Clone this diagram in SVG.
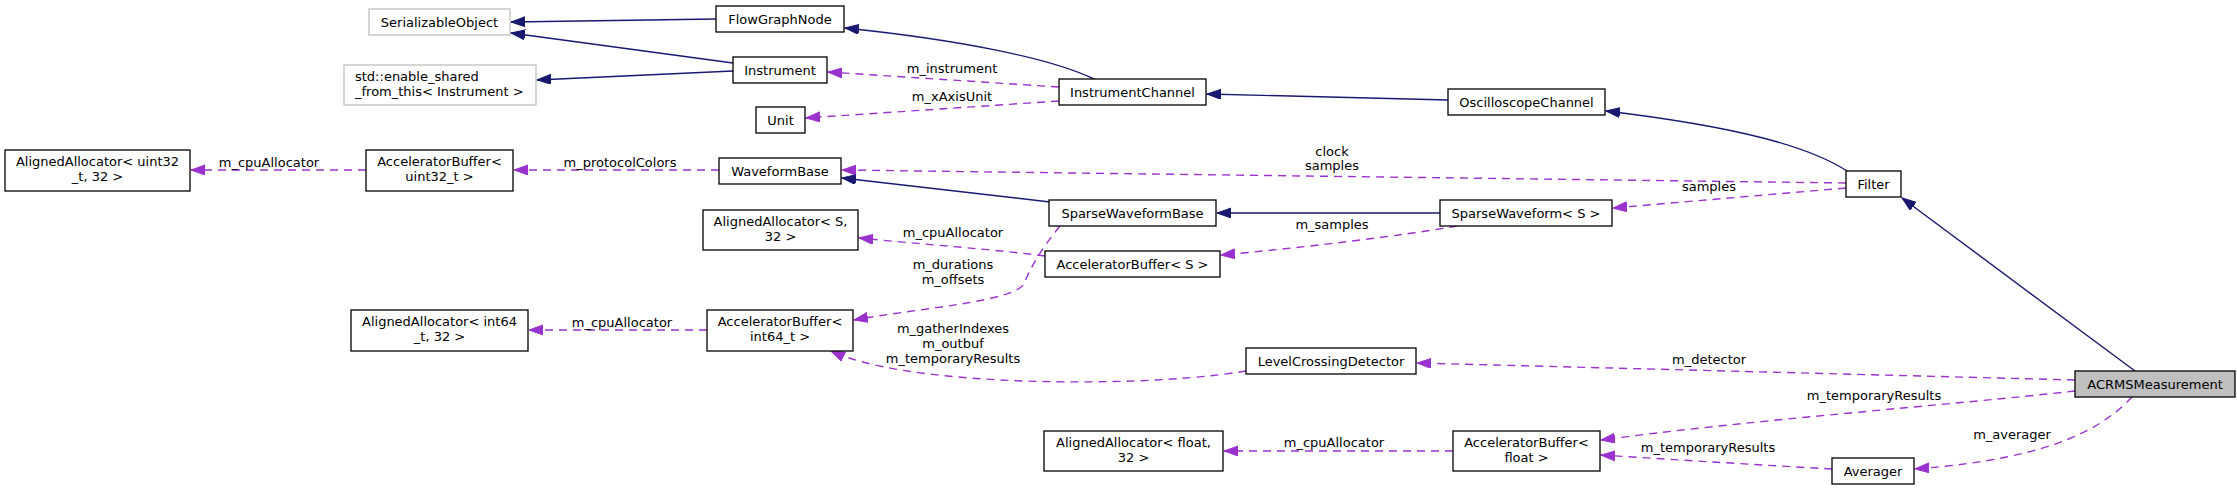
<svg xmlns="http://www.w3.org/2000/svg" width="2237" height="489" viewBox="0 0 2237 489">
<style>
  .n rect { fill: #ffffff; stroke: #000000; stroke-width: 1.3; }
  .u rect { fill: #ffffff; stroke: #bfbfbf; stroke-width: 1.3; }
  .root rect { fill: #bfbfbf; stroke: #000000; stroke-width: 1.3; }
  text { font-family: "DejaVu Sans", "Liberation Sans", sans-serif; font-size: 13px; fill: #000000; text-anchor: middle; }
  .l { text-anchor: start; }
  .inh { fill: none; stroke: #191970; stroke-width: 1.4; marker-end: url(#ab); }
  .use { fill: none; stroke: #9a32cd; stroke-width: 1.4; stroke-dasharray: 8,6; marker-end: url(#ap); }
</style>
<defs>
  <marker id="ab" markerUnits="userSpaceOnUse" markerWidth="16" markerHeight="12" refX="14" refY="5" orient="auto">
    <path d="M0,0 L14,5 L0,10 z" fill="#191970" stroke="#191970" stroke-width="1"/>
  </marker>
  <marker id="ap" markerUnits="userSpaceOnUse" markerWidth="16" markerHeight="12" refX="14" refY="5" orient="auto">
    <path d="M0,0 L14,5 L0,10 z" fill="#9a32cd" stroke="#9a32cd" stroke-width="1"/>
  </marker>
</defs>
<rect x="0" y="0" width="2237" height="489" fill="#ffffff"/>

<g id="connectors">
  <path class="inh" d="M716,19 L511,22"/>
  <path class="inh" d="M733,63 L511,33"/>
  <path class="inh" d="M733,71 L537,80"/>
  <path class="inh" d="M1094,79 C1050,58 960,40 845,28"/>
  <path class="use" d="M1059,87 L828,72"/>
  <path class="use" d="M1059,101 L806,118"/>
  <path class="inh" d="M1448,100 L1207,94"/>
  <path class="inh" d="M1847,171 C1810,147 1740,127 1606,111"/>
  <path class="use" d="M1846,183 L842,170"/>
  <path class="use" d="M1846,188 L1613,208"/>
  <path class="inh" d="M1050,202 L842,178"/>
  <path class="inh" d="M1440,213 L1217,213"/>
  <path class="use" d="M1457,226 C1400,236 1300,248 1221,255"/>
  <path class="use" d="M1045,256 C1000,250 920,244 859,238"/>
  <path class="use" d="M1060,226 C1042,248 1030,268 1024,284 C1012,302 920,308 854,320"/>
  <path class="use" d="M707,330 L529,330"/>
  <path class="use" d="M1246,371 C1180,382 1080,384 1000,380 C930,376 868,368 831,351"/>
  <path class="use" d="M719,170 L514,170"/>
  <path class="use" d="M366,170 L191,170"/>
  <path class="inh" d="M2135,371 L1902,198"/>
  <path class="use" d="M2075,380 L1417,363"/>
  <path class="use" d="M2075,391 C1950,405 1750,420 1601,440"/>
  <path class="use" d="M2132,397 C2105,425 2060,458 1915,469"/>
  <path class="use" d="M1832,469 C1760,465 1680,460 1601,455"/>
  <path class="use" d="M1453,451 L1224,451"/>
</g>

<g id="SerializableObject" class="u"><rect x="369" y="9" width="141" height="26"/><text x="439.5" y="27">SerializableObject</text></g>
<g id="FlowGraphNode" class="n"><rect x="716" y="6" width="128" height="26"/><text x="780" y="24">FlowGraphNode</text></g>
<g id="Instrument" class="n"><rect x="733" y="57" width="94" height="26"/><text x="780" y="75">Instrument</text></g>
<g id="enable_shared_from_this" class="u"><rect x="344" y="65" width="192" height="40"/><text class="l" x="355" y="81">std::enable_shared</text><text class="l" x="355" y="96">_from_this&lt; Instrument &gt;</text></g>
<g id="Unit" class="n"><rect x="756" y="107" width="49" height="26"/><text x="780.5" y="125">Unit</text></g>
<g id="InstrumentChannel" class="n"><rect x="1059" y="79" width="147" height="26"/><text x="1132.5" y="97">InstrumentChannel</text></g>
<g id="OscilloscopeChannel" class="n"><rect x="1448" y="89" width="157" height="26"/><text x="1526.5" y="107">OscilloscopeChannel</text></g>
<g id="WaveformBase" class="n"><rect x="719" y="158" width="122" height="26"/><text x="780" y="176">WaveformBase</text></g>
<g id="Filter" class="n"><rect x="1846" y="171" width="55" height="26"/><text x="1873.5" y="189">Filter</text></g>
<g id="AlignedAllocator_uint32" class="n"><rect x="5" y="150" width="185" height="41"/><text x="97.5" y="166">AlignedAllocator&lt; uint32</text><text x="97.5" y="181">_t, 32 &gt;</text></g>
<g id="AcceleratorBuffer_uint32" class="n"><rect x="366" y="150" width="147" height="41"/><text x="439.5" y="166">AcceleratorBuffer&lt;</text><text x="439.5" y="181">uint32_t &gt;</text></g>
<g id="SparseWaveformBase" class="n"><rect x="1049" y="200" width="167" height="26"/><text x="1132.5" y="218">SparseWaveformBase</text></g>
<g id="SparseWaveform_S" class="n"><rect x="1440" y="200" width="172" height="26"/><text x="1526" y="218">SparseWaveform&lt; S &gt;</text></g>
<g id="AlignedAllocator_S" class="n"><rect x="703" y="210" width="155" height="40"/><text x="780.5" y="226">AlignedAllocator&lt; S,</text><text x="780.5" y="241">32 &gt;</text></g>
<g id="AcceleratorBuffer_S" class="n"><rect x="1045" y="251" width="175" height="26"/><text x="1132.5" y="269">AcceleratorBuffer&lt; S &gt;</text></g>
<g id="AlignedAllocator_int64" class="n"><rect x="351" y="310" width="177" height="41"/><text x="439.5" y="326">AlignedAllocator&lt; int64</text><text x="439.5" y="341">_t, 32 &gt;</text></g>
<g id="AcceleratorBuffer_int64" class="n"><rect x="707" y="310" width="146" height="41"/><text x="780" y="326">AcceleratorBuffer&lt;</text><text x="780" y="341">int64_t &gt;</text></g>
<g id="LevelCrossingDetector" class="n"><rect x="1246" y="348" width="170" height="26"/><text x="1331" y="366">LevelCrossingDetector</text></g>
<g id="ACRMSMeasurement" class="root"><rect x="2075" y="371" width="160" height="26"/><text x="2155" y="389">ACRMSMeasurement</text></g>
<g id="AlignedAllocator_float" class="n"><rect x="1044" y="431" width="179" height="40"/><text x="1133.5" y="447">AlignedAllocator&lt; float,</text><text x="1133.5" y="462">32 &gt;</text></g>
<g id="AcceleratorBuffer_float" class="n"><rect x="1453" y="431" width="147" height="40"/><text x="1526.5" y="447">AcceleratorBuffer&lt;</text><text x="1526.5" y="462">float &gt;</text></g>
<g id="Averager" class="n"><rect x="1832" y="458" width="82" height="26"/><text x="1873" y="476">Averager</text></g>

<g id="labels">
  <text x="952" y="73">m_instrument</text>
  <text x="952" y="101">m_xAxisUnit</text>
  <text x="1332" y="156">clock</text>
  <text x="1332" y="170">samples</text>
  <text x="1709" y="191">samples</text>
  <text x="1332" y="229">m_samples</text>
  <text x="953" y="237">m_cpuAllocator</text>
  <text x="953" y="269">m_durations</text>
  <text x="953" y="284">m_offsets</text>
  <text x="269" y="167">m_cpuAllocator</text>
  <text x="620" y="167">m_protocolColors</text>
  <text x="622" y="327">m_cpuAllocator</text>
  <text x="953" y="333">m_gatherIndexes</text>
  <text x="953" y="348">m_outbuf</text>
  <text x="953" y="363">m_temporaryResults</text>
  <text x="1709" y="364">m_detector</text>
  <text x="1874" y="400">m_temporaryResults</text>
  <text x="2012" y="439">m_averager</text>
  <text x="1708" y="452">m_temporaryResults</text>
  <text x="1334" y="447">m_cpuAllocator</text>
</g>
</svg>
